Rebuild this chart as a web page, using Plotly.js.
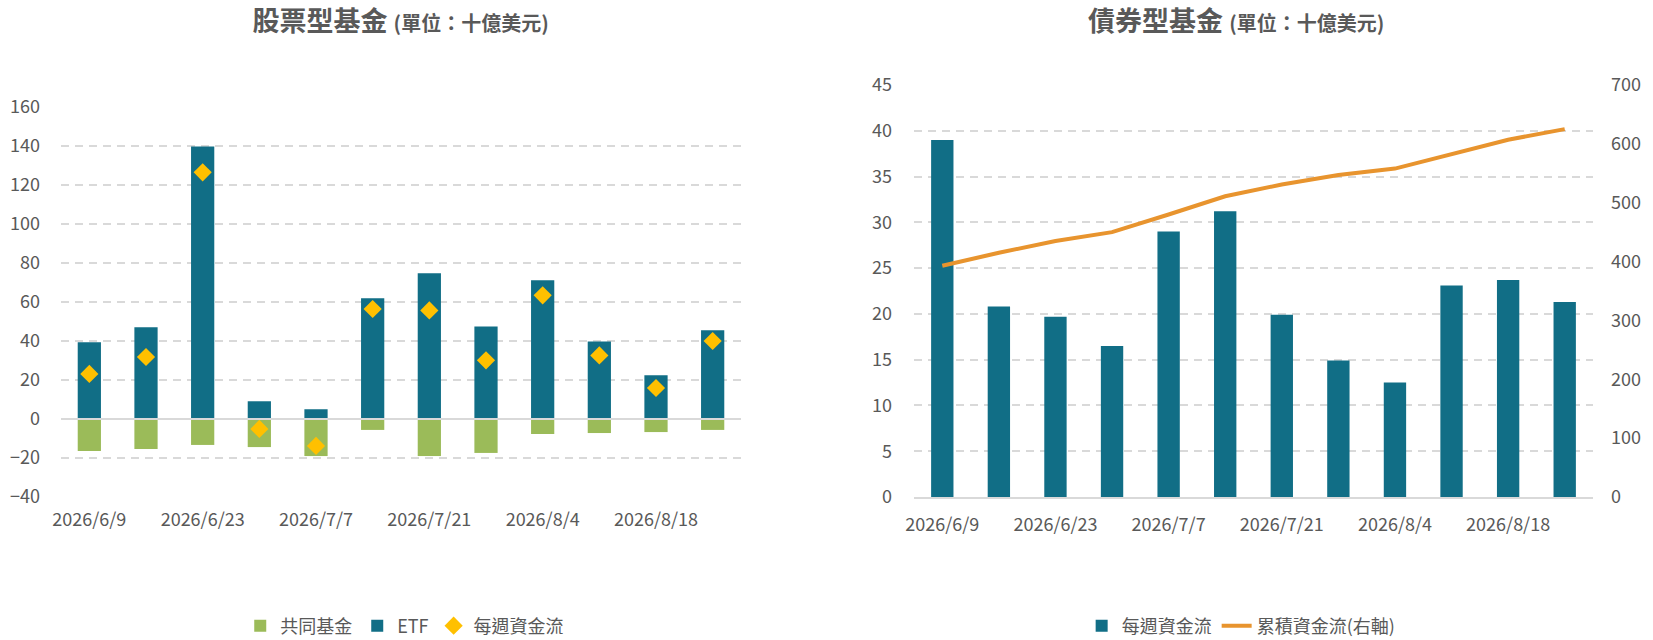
<!DOCTYPE html>
<html>
<head>
<meta charset="utf-8">
<script src="https://cdn.plot.ly/plotly-3.0.1.min.js"></script>
<style>
  html, body { margin: 0; padding: 0; background: #fff; }
  #wrap { display: flex; width: 1653px; height: 640px; }
  #equity { width: 826px; height: 640px; }
  #bond { width: 827px; height: 640px; }
</style>
</head>
<body>
<div id="wrap">
  <div id="equity"></div>
  <div id="bond"></div>
</div>
<script>
  // weekly fund flows, USD bn
  const weeks = ['2026/6/9', '2026/6/16', '2026/6/23', '2026/6/30', '2026/7/7', '2026/7/14',
                 '2026/7/21', '2026/7/28', '2026/8/4', '2026/8/11', '2026/8/18', '2026/8/25'];
  const tickWeeks = ['2026/6/9', '2026/6/23', '2026/7/7', '2026/7/21', '2026/8/4', '2026/8/18'];

  const mutualFlow   = [-16.4, -15.4, -13.3, -14.4, -19.0, -5.6, -19.0, -17.4, -7.7, -7.2, -6.7, -5.6];
  const etfFlow      = [39.3, 47.0, 139.8, 9.1, 5.0, 61.9, 74.7, 47.5, 71.1, 39.8, 22.4, 45.5];
  const equityWeekly = [23.1, 31.8, 126.5, -5.1, -13.8, 56.4, 55.7, 30.1, 63.4, 32.6, 15.9, 40.0];

  const bondWeekly     = [39.0, 20.8, 19.7, 16.5, 29.0, 31.2, 19.9, 14.9, 12.5, 23.1, 23.7, 21.3];
  const bondCumulative = [393, 415, 435, 450, 480, 511, 531, 547, 558, 582, 607, 625];

  const FONT = '"Noto Sans CJK TC", "Noto Sans", sans-serif';
  const GREY = '#595959';
  const GRID = '#D9D9D9';
  const TEAL = '#116E86';

  const config = {staticPlot: true, displayModeBar: false};

  function titleText(main) {
    return '<b>' + main + ' <span style="font-size:20px">(單位：十億美元)</span></b>';
  }

  function catAxis() {
    return {
      type: 'category',
      categoryorder: 'array',
      categoryarray: weeks,
      range: [-0.5, weeks.length - 0.5],
      tickmode: 'array',
      tickvals: tickWeeks,
      ticktext: tickWeeks,
      ticks: '',
      showgrid: false,
      zeroline: false,
      tickfont: {family: FONT, size: 18, color: GREY},
      ticklabelstandoff: 10
    };
  }

  function valAxis(range, dtick) {
    return {
      range: range,
      dtick: dtick,
      ticks: '',
      showline: false,
      showgrid: true,
      gridcolor: GRID,
      gridwidth: 2,
      griddash: '8px,6px',
      zeroline: false,
      tickfont: {family: FONT, size: 18, color: GREY},
      ticklabelstandoff: 20
    };
  }

  // equity chart
  const eqData = [
    {type: 'bar', name: '共同基金', x: weeks, y: mutualFlow, marker: {color: '#9BBB59'}},
    {type: 'bar', name: 'ETF', x: weeks, y: etfFlow, marker: {color: TEAL}},
    {type: 'scatter', mode: 'markers', name: '每週資金流', x: weeks, y: equityWeekly,
     marker: {symbol: 'diamond', size: 14, color: '#FFC000'}}
  ];

  const eqLayout = {
    width: 826, height: 640,
    margin: {l: 61, r: 85, t: 107, b: 143, pad: 0},
    paper_bgcolor: '#fff', plot_bgcolor: '#fff',
    font: {family: FONT, color: GREY},
    barmode: 'relative',
    bargap: 0.59,
    title: {text: titleText('股票型基金'), font: {family: FONT, size: 27, color: GREY},
            xref: 'container', x: 0.485, xanchor: 'center',
            yref: 'container', y: 1 - 22 / 640, yanchor: 'middle'},
    xaxis: catAxis(),
    yaxis: valAxis([-40, 160], 20),
    showlegend: true,
    legend: {orientation: 'h', xref: 'container', x: 0.49, xanchor: 'center',
             yref: 'container', y: 1 - 626 / 640, yanchor: 'middle',
             font: {family: FONT, size: 18, color: GREY}, traceorder: 'normal',
             itemwidth: 30},
    shapes: [{type: 'line', xref: 'paper', x0: 0, x1: 1, yref: 'y', y0: 0, y1: 0,
              line: {color: GRID, width: 2}, layer: 'above'}]
  };

  Plotly.newPlot('equity', eqData, eqLayout, config);

  // bond chart
  const bdData = [
    {type: 'bar', name: '每週資金流', x: weeks, y: bondWeekly, marker: {color: TEAL}},
    {type: 'scatter', mode: 'lines', name: '累積資金流(右軸)', x: weeks, y: bondCumulative,
     yaxis: 'y2', line: {color: '#E8942E', width: 4}}
  ];

  const bdY2 = valAxis([0, 700], 100);
  bdY2.overlaying = 'y';
  bdY2.side = 'right';
  bdY2.showgrid = false;
  bdY2.ticklabelstandoff = 17;

  const bdX = catAxis();
  bdX.showline = true;
  bdX.linecolor = GRID;
  bdX.linewidth = 2;

  const bdY = valAxis([0, 45], 5);
  bdY.ticklabelstandoff = 21;

  const bdLayout = {
    width: 827, height: 640,
    margin: {l: 88, r: 60, t: 85, b: 143, pad: 0},
    paper_bgcolor: '#fff', plot_bgcolor: '#fff',
    font: {family: FONT, color: GREY},
    bargap: 0.605,
    title: {text: titleText('債券型基金'), font: {family: FONT, size: 27, color: GREY},
            xref: 'container', x: 0.496, xanchor: 'center',
            yref: 'container', y: 1 - 22 / 640, yanchor: 'middle'},
    xaxis: bdX,
    yaxis: bdY,
    yaxis2: bdY2,
    showlegend: true,
    legend: {orientation: 'h', xref: 'container', x: 0.502, xanchor: 'center',
             yref: 'container', y: 1 - 626 / 640, yanchor: 'middle',
             font: {family: FONT, size: 18, color: GREY}, traceorder: 'normal'}
  };

  Plotly.newPlot('bond', bdData, bdLayout, config);
</script>
</body>
</html>
